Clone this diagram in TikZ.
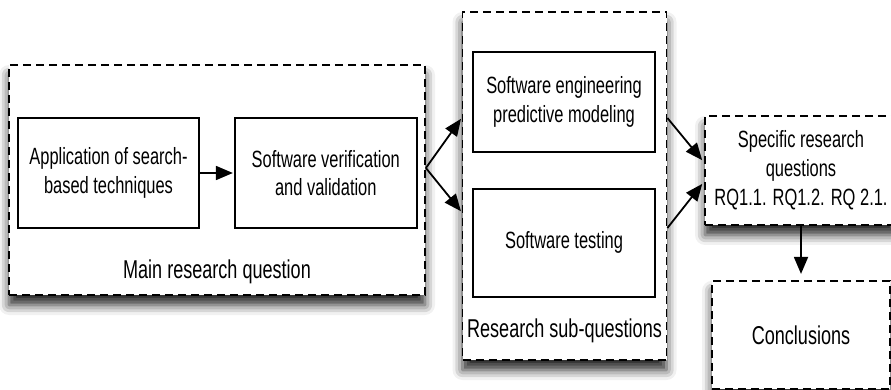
\documentclass[tikz,border=0pt]{standalone}
\usepackage{fontspec}
\setmainfont{Liberation Sans}[FakeStretch=0.7]
\usepackage{tikz}
\usetikzlibrary{arrows.meta,positioning,shadows.blur}

\begin{document}
\begin{tikzpicture}[->,>={Triangle[length=17pt,width=14pt]},shorten >=1pt,x=1pt,y=1pt,line width=1.8pt]
  \tikzstyle{group}=[draw,dash pattern=on 8pt off 5pt,fill=white,inner sep=0pt,
    blur shadow={shadow xshift=0pt,shadow yshift=-10pt,shadow blur radius=10pt,shadow opacity=85}]
  \tikzstyle{block}=[draw,solid,fill=white,align=center,font=\fontsize{23.5}{28.5}\selectfont]
  \tikzstyle{caption}=[font=\fontsize{25.8}{28}\selectfont,inner sep=0pt,anchor=base]

  \clip (0,0) rectangle (891,389);

  % dashed frames
  \node[group,minimum width=416pt,minimum height=230pt] (main) at (217,209) {};
  \node[group,minimum width=204pt,minimum height=348pt] (sub)  at (564.5,203) {};
  \node[group,minimum width=192pt,minimum height=109pt,align=center,
        font=\fontsize{23.5}{29}\selectfont] (spec) at (801,218.5)
        {Specific research\\questions\\RQ1.1. RQ1.2. RQ 2.1.};
  \node[group,minimum width=178pt,minimum height=108pt,
        font=\fontsize{25.8}{28}\selectfont] (concl) [below=54pt of spec] {Conclusions};

  \node[block,minimum width=181pt,minimum height=110pt] (app) at (108.5,216) {Application of search-\\based techniques};
  \node[block,minimum width=182pt,minimum height=110pt] (verif) [right=34pt of app] {Software verification\\and validation};
  \node[block,minimum width=182pt,minimum height=100pt] (model) at (564,287) {Software engineering\\predictive modeling};
  \node[block,minimum width=182pt,minimum height=108pt] (testing) [below=35pt of model] {Software testing};

  \node[caption] (mainq) at (217,111) {Main research question};
  \node[caption] (subq)  at (564.5,52) {Research sub-questions};

  \coordinate (fork) at ([yshift=12pt]main.east);

  \path (app)  edge (verif)
        (fork) edge ([yshift=68pt]sub.west)
               edge ([yshift=-26pt]sub.west)
        ([yshift=68pt]sub.east)  edge [shorten >=3pt] ([yshift=8pt]spec.west)
        ([yshift=-42pt]sub.east) edge [shorten >=3pt] ([yshift=-11pt]spec.west)
        (spec) edge [shorten >=6pt] (concl);
\end{tikzpicture}
\end{document}
